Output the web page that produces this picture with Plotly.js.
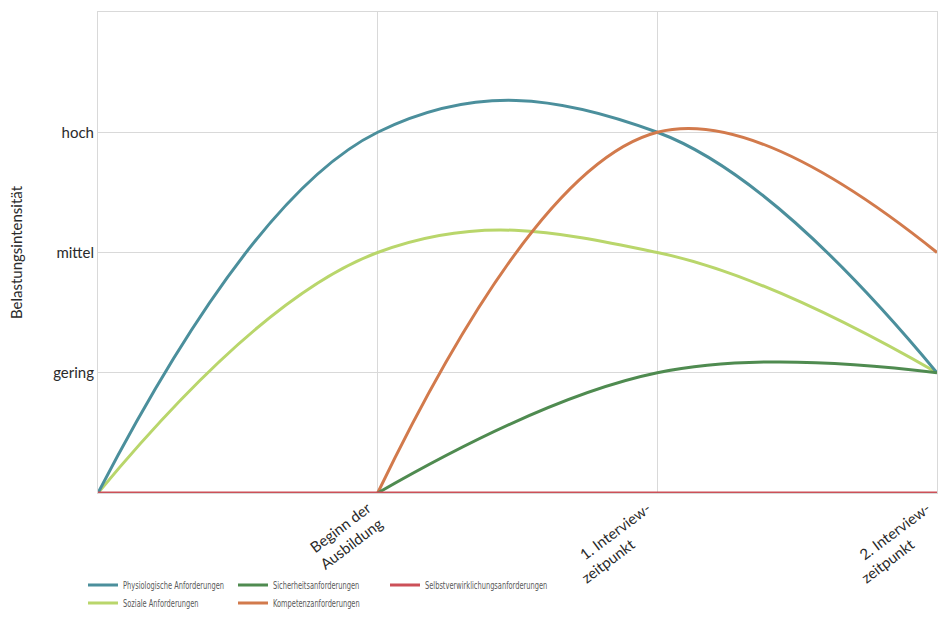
<!DOCTYPE html>
<html>
<head>
<meta charset="utf-8">
<script src="https://cdn.plot.ly/plotly-3.0.1.min.js"></script>
<style>
html,body{margin:0;padding:0;background:#fff;}
#chart{width:946px;height:620px;}
</style>
</head>
<body>
<div id="chart"></div>
<script>
var NB = '\u00a0';
function pad(n) { return new Array(n + 1).join(NB); }
var xPos = [0, 1, 2, 3];
var xLabels = ['', 'Beginn der<br>Ausbildung', '1. Interview-<br>zeitpunkt' + pad(9), '2. Interview-<br>zeitpunkt' + pad(9)];
var yTickVals = [0, 1, 2, 3, 4];
var yLabels = ['', 'gering', 'mittel', 'hoch', ''];

var physiologisch = [0, 3, 3, 1];
var sicherheit = [null, 0, 1, 1];
var selbstverwirklichung = [0, 0, 0, 0];
var sozial = [0, 2, 2, 1];
var kompetenz = [null, 0, 3, 2];

var seriesNames = ['Physiologische Anforderungen', 'Sicherheitsanforderungen', 'Selbstverwirklichungsanforderungen', 'Soziale Anforderungen', 'Kompetenzanforderungen'];
var seriesValues = [physiologisch, sicherheit, selbstverwirklichung, sozial, kompetenz];
var seriesColors = ['#4b8f9c', '#4f8b50', '#cc5058', '#b9d66b', '#d27a4c'];
var seriesLegend = ['legend', 'legend', 'legend3', 'legend2', 'legend2'];
var seriesSmooth = [true, true, false, true, true];

var traces = seriesNames.map(function (n, i) {
  return {
    type: 'scatter', mode: 'lines', name: n,
    x: xPos, y: seriesValues[i],
    line: { color: seriesColors[i], width: 3, shape: seriesSmooth[i] ? 'spline' : 'linear', smoothing: 1.15 },
    legend: seriesLegend[i],
    connectgaps: false,
    hoverinfo: 'skip'
  };
});
var order = [3, 0, 4, 1, 2];
var drawTraces = order.map(function (k) { return traces[k]; });
drawTraces.forEach(function (t) { t.legendrank = seriesNames.indexOf(t.name) + 1; });

function legendFont() { return { family: '"Liberation Sans Narrow", "DejaVu Sans Condensed", sans-serif', size: 10, color: '#595959' }; }
function legendCfg(x, y, ew) {
  var o = {
    orientation: 'h', xanchor: 'left', yanchor: 'middle', xref: 'container', yref: 'container',
    x: x, y: y, font: legendFont(), itemwidth: 30, tracegroupgap: 0,
    bgcolor: 'rgba(0,0,0,0)', traceorder: 'normal'
  };
  if (ew) o.entrywidth = ew;
  return o;
}

var layout = {
  width: 946, height: 620,
  margin: { l: 98, r: 9, t: 12, b: 127 },
  paper_bgcolor: '#ffffff', plot_bgcolor: '#ffffff',
  font: { family: 'Lato, "Open Sans", sans-serif', color: '#222' },
  showlegend: true,
  xaxis: {
    range: [0, 3], tickvals: xPos, ticktext: xLabels, tickangle: -37,
    ticklabelshift: -10,
    showgrid: true, gridcolor: '#d9d9d9', gridwidth: 1, automargin: false,
    ticklabeloverflow: 'allow',
    zeroline: false, showline: true, linecolor: '#d9d9d9', mirror: true,
    ticks: '', tickfont: { size: 15, color: '#2a2a2a' }, fixedrange: true
  },
  yaxis: {
    range: [0, 4], tickvals: yTickVals, ticktext: yLabels, automargin: false,
    showgrid: true, gridcolor: '#d9d9d9', gridwidth: 1,
    zeroline: false, showline: true, linecolor: '#d9d9d9', mirror: true,
    ticks: '', tickfont: { size: 15, color: '#2a2a2a' },
    title: { text: 'Belastungsintensität', font: { size: 15, color: '#2a2a2a' }, standoff: 26 },
    fixedrange: true
  },
  legend: legendCfg(83 / 946, 1 - 585 / 620, 105),
  legend2: legendCfg(83 / 946, 1 - 603 / 620, 105),
  legend3: legendCfg(385 / 946, 1 - 585 / 620)
};

// the reference legend uses a condensed face: squeeze legend texts horizontally
function squeeze(gd) {
  var all = gd.querySelectorAll('svg text');
  for (var i = 0; i < all.length; i++) {
    var t = all[i];
    if (seriesNames.indexOf(t.textContent) < 0) continue;
    if (t.getAttribute('textLength')) continue;
    var len = t.getComputedTextLength();
    if (len > 0) {
      t.setAttribute('textLength', (len * 0.74).toFixed(1));
      t.setAttribute('lengthAdjust', 'spacingAndGlyphs');
    }
  }
}

Plotly.newPlot('chart', drawTraces, layout, { displayModeBar: false, staticPlot: true }).then(function (gd) {
  squeeze(gd);
  var n = 0;
  var iv = setInterval(function () { squeeze(gd); if (++n > 20) clearInterval(iv); }, 50);
});
</script>
</body>
</html>
